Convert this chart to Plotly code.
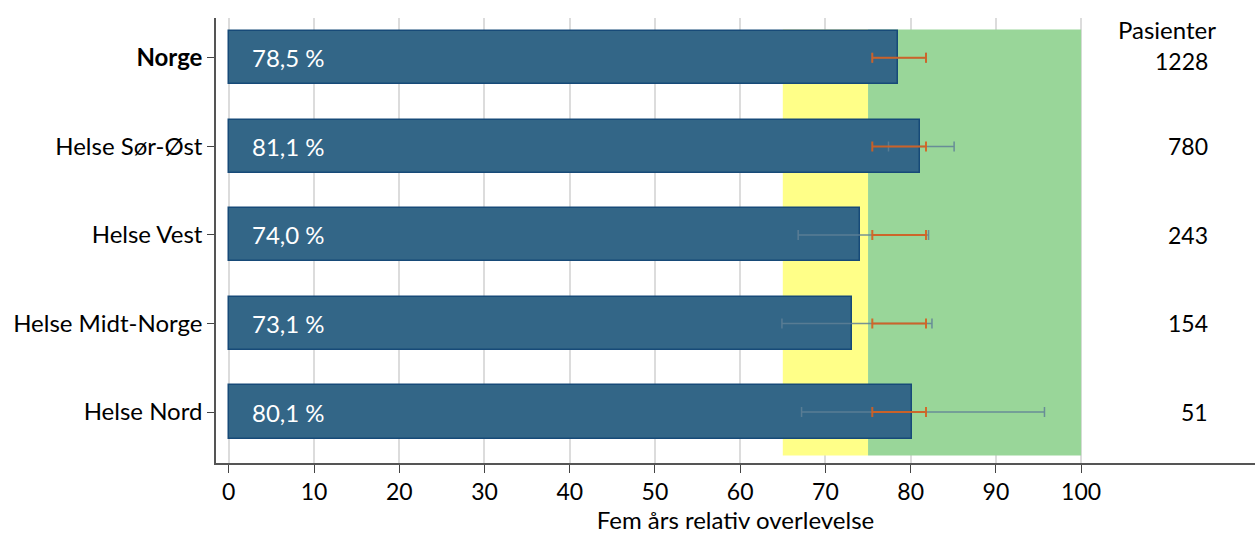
import plotly.graph_objects as go

regions = ["Norge", "Helse Sør-Øst", "Helse Vest", "Helse Midt-Norge", "Helse Nord"]
survival = [78.5, 81.1, 74.0, 73.1, 80.1]
ci_low = [75.5, 77.4, 66.8, 64.9, 67.2]
ci_high = [81.8, 85.1, 82.1, 82.5, 95.7]
nat_low = 75.5
nat_high = 81.8
patients = [1228, 780, 243, 154, 51]
x_ticks = [0, 10, 20, 30, 40, 50, 60, 70, 80, 90, 100]
yellow_band = (65, 75)
green_band = (75, 100)

FONT = "Lato, 'Liberation Sans', sans-serif"
ypos = list(range(len(regions)))

fig = go.Figure()
fig.add_trace(go.Bar(
    x=survival, y=ypos, orientation="h", width=0.6,
    marker=dict(color="#336687", line=dict(color="#174a78", width=1.5)),
    hoverinfo="skip", showlegend=False,
))
# regional CI (grey-blue)
mids = [(a + b) / 2 for a, b in zip(ci_low, ci_high)]
fig.add_trace(go.Scatter(
    x=mids, y=ypos, mode="markers",
    marker=dict(size=0.1, color="rgba(0,0,0,0)"),
    error_x=dict(type="data", symmetric=False,
                 array=[h - m for h, m in zip(ci_high, mids)],
                 arrayminus=[m - l for l, m in zip(ci_low, mids)],
                 color="rgba(95,128,150,0.85)", thickness=1.5, width=5),
    showlegend=False, hoverinfo="skip",
))
# national CI (orange) on every row
nat_mid = (nat_low + nat_high) / 2
fig.add_trace(go.Scatter(
    x=[nat_mid] * len(regions), y=ypos, mode="markers",
    marker=dict(size=0.1, color="rgba(0,0,0,0)"),
    error_x=dict(type="data", symmetric=False,
                 array=[nat_high - nat_mid] * len(regions),
                 arrayminus=[nat_mid - nat_low] * len(regions),
                 color="rgba(215,95,30,0.9)", thickness=2, width=5),
    showlegend=False, hoverinfo="skip",
))

fig.add_shape(type="rect", xref="x", yref="y", x0=yellow_band[0], x1=yellow_band[1],
              y0=-0.32, y1=4.49, fillcolor="#ffff88", line_width=0, layer="between")
fig.add_shape(type="rect", xref="x", yref="y", x0=green_band[0], x1=green_band[1],
              y0=-0.32, y1=4.49, fillcolor="#99d699", line_width=0, layer="between")

for i, v in enumerate(survival):
    fig.add_annotation(x=2.5, y=i, xref="x", yref="y", text=f"{v:.1f} %".replace(".", ","),
                       showarrow=False, xanchor="left", yanchor="middle",
                       font=dict(family=FONT, size=24, color="white"))
for i, p in enumerate(patients):
    fig.add_annotation(x=115.1, y=i + (0.04 if i == 0 else 0), xref="x", yref="y", text=str(p),
                       showarrow=False, xanchor="right", yanchor="middle",
                       font=dict(family=FONT, size=23, color="black"))
fig.add_annotation(x=110.1, y=-0.32, xref="x", yref="y", text="Pasienter",
                   showarrow=False, xanchor="center", yanchor="middle",
                   font=dict(family=FONT, size=24, color="black"))

ticktext = ["<b>" + regions[0] + "</b>"] + regions[1:]

fig.update_layout(
    width=1255, height=537,
    margin=dict(l=216, r=0, t=18, b=74),
    plot_bgcolor="white", paper_bgcolor="white",
    font=dict(family=FONT, size=24, color="black"),
    bargap=0,
    xaxis=dict(range=[-1.5, 120.4], tickvals=x_ticks, ticks="outside", ticklen=8,
               tickcolor="#444", showline=True, linecolor="#555", linewidth=1.5,
               tickfont=dict(size=23),
               showgrid=True, gridcolor="#dcdcdc", gridwidth=1.5, zeroline=False,
               title=dict(text="Fem års relativ overlevelse", standoff=8,
                          font=dict(family=FONT, size=24))),
    yaxis=dict(range=[4.576, -0.45], tickvals=ypos, ticktext=ticktext, ticks="outside",
               ticklen=7, tickcolor="#444", showline=True, linecolor="#555", linewidth=1.5,
               showgrid=False, zeroline=False),
)

fig.write_html("out.html", config={"displayModeBar": False},
               post_script="document.body.style.margin='0';")
